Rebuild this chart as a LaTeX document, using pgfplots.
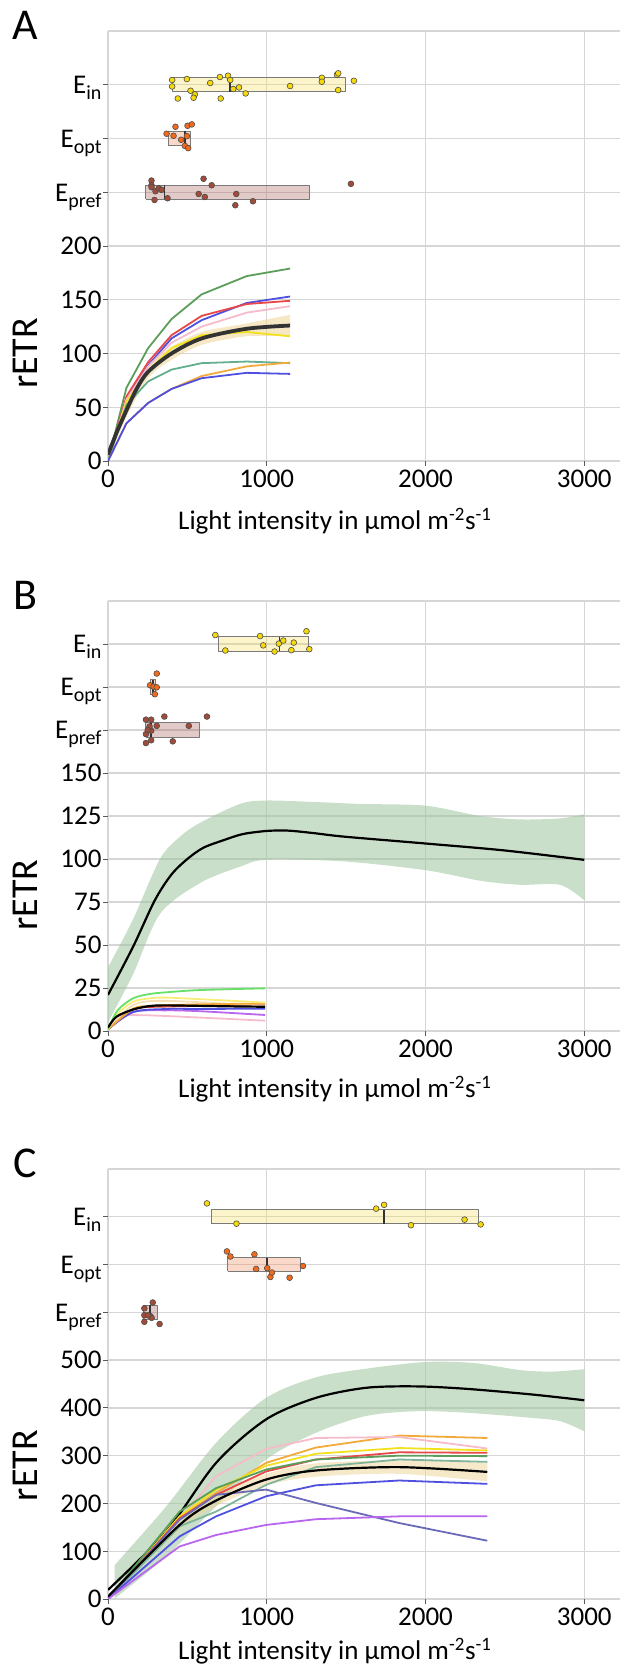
\documentclass[border=0pt]{standalone}
\usepackage{fontspec}
\setmainfont{Carlito}
\usepackage{pgfplots}
\pgfplotsset{compat=1.18}
\usepgfplotslibrary{fillbetween}

\definecolor{gridgray}{HTML}{D6D6D6}
\definecolor{boxedge}{HTML}{7A7A7A}
\definecolor{ptyellow}{HTML}{F5D90A}
\definecolor{ptorange}{HTML}{F26B1D}
\definecolor{ptbrown}{HTML}{A24B38}
\definecolor{bxyellow}{HTML}{F5DC50}
\definecolor{bxorange}{HTML}{EE8050}
\definecolor{bxbrown}{HTML}{A0504A}
\definecolor{lgreen}{HTML}{5A9E5A}
\definecolor{lblue}{HTML}{5050E0}
\definecolor{lred}{HTML}{E84848}
\definecolor{lpink}{HTML}{F6BCCB}
\definecolor{lyellow}{HTML}{F2E21E}
\definecolor{lteal}{HTML}{62AE8E}
\definecolor{lorange}{HTML}{F2AA3A}
\definecolor{lbright}{HTML}{66E066}
\definecolor{lwheat}{HTML}{F5DEB3}
\definecolor{lpurple}{HTML}{B866EE}
\definecolor{lslate}{HTML}{6A6AB8}
\definecolor{lsage}{HTML}{80B49A}
\definecolor{tanband}{HTML}{EED495}
\definecolor{greenband}{HTML}{9CC49C}

\newcommand{\Ein}{E\raisebox{-6pt}{\fontsize{20}{20}\selectfont in}}
\newcommand{\Eopt}{E\raisebox{-6pt}{\fontsize{20}{20}\selectfont opt}}
\newcommand{\Epref}{E\raisebox{-6pt}{\fontsize{20}{20}\selectfont pref}}

\tikzset{letter/.style={font=\fontsize{44}{44}\selectfont}}

\pgfplotsset{
  panel/.style={
    scale only axis, width=512pt, height=430pt,
    xmin=0, xmax=3225, ymin=0,
    xtick={0,1000,2000,3000}, xticklabels={0,1000,2000,3000},
    axis line style={draw=none},
    grid=major, grid style={draw=gridgray, line width=1.3pt},
    xtick pos=left, ytick pos=left,
    tick align=outside, major tick length=5pt,
    tick style={draw=black!65, line width=0.9pt},
    tick label style={font=\fontsize{27}{27}\selectfont},
    yticklabel style={anchor=base east, yshift=-8.8pt, xshift=2pt},
    /pgf/number format/assume math mode=true,
    extra y tick labels={},
    extra y tick style={major tick length=0pt, grid=major},
    xlabel={Light intensity in µmol m\textsuperscript{-2}s\textsuperscript{-1}},
    xlabel style={font=\fontsize{27}{27}\selectfont, at={(axis description cs:0.443,0)}, anchor=center},
    ylabel={rETR},
    ylabel style={font=\fontsize{38}{38}\selectfont, anchor=center},
    no markers,
    every axis plot/.append style={line join=round},
  },
  pts/.style={only marks, mark=*, mark size=2.9pt, mark options={fill=#1, draw=black!70, line width=0.6pt}},
  bx/.style={draw=boxedge, line width=0.9pt, fill=#1, fill opacity=0.3},
  med/.style={draw=black!80, line width=1.6pt},
}

\begin{document}
\begin{tikzpicture}

% ---------------- A ----------------
\begin{axis}[panel, at={(108pt,1211pt)}, anchor=south west, ymax=400,
  ytick={0,50,...,350}, yticklabels={0,50,100,150,200,\Epref,\Eopt,\Ein},
  extra y ticks={400},
  xlabel style={yshift=-60pt},
  ylabel style={at={(axis description cs:-0.162,0.25)}},
  extra description/.code={\node[letter] at (-0.162,1.012) {A};}]
% boxes
\addplot[bx=bxyellow] coordinates {(404,343.3) (1494,343.3) (1494,356.7) (404,356.7) (404,343.3)};
\addplot[med] coordinates {(767,343.3) (767,356.7)};
\addplot[pts=ptyellow] coordinates {(404,354.4) (404,348.4) (497,355.3) (440,337.2) (520,344.4) (547,341) (539,337.9) (644,351.6) (705,357.2) (710,337.2) (756,358.4) (770,354.4) (789,346) (825,347.5) (867,341.9) (1147,348.8) (1347,356.5) (1347,352.8) (1442,359.3) (1450,360.6) (1450,345) (1549,353.7)};
\addplot[bx=bxorange] coordinates {(379,293.5) (522,293.5) (522,306.5) (379,306.5) (379,293.5)};
\addplot[med] coordinates {(486,293.5) (486,306.5)};
\addplot[pts=ptorange] coordinates {(369,304.4) (425,310.9) (413,302.5) (461,298.8) (484,293.1) (505,291) (497,302.2) (501,311.8) (528,313.1)};
\addplot[bx=bxbrown] coordinates {(238,243.3) (1269,243.3) (1269,256.7) (238,256.7) (238,243.3)};
\addplot[med] coordinates {(356,243.3) (356,256.7)};
\addplot[pts=ptbrown] coordinates {(274,260.9) (274,256.5) (274,254.7) (299,250.9) (320,253.7) (337,252.2) (293,242.8) (375,244.4) (602,262.5) (653,256.5) (571,248.4) (610,245.6) (808,248.4) (802,237.9) (913,241.6) (1530,257.8)};
% curves
\addplot[lgreen, line width=1.8pt] coordinates {(0,0) (116,68) (253,105) (400,132) (590,155) (874,172) (1147,179)};
\addplot[lblue, line width=1.8pt] coordinates {(0,0) (116,58) (253,89) (400,114) (590,131) (874,147) (1147,153)};
\addplot[lred, line width=1.8pt] coordinates {(0,0) (116,60) (253,92) (400,117) (590,135) (874,146) (1147,149)};
\addplot[lpink, line width=1.8pt] coordinates {(0,0) (116,57) (253,88) (400,110) (590,125) (874,138) (1147,144)};
\addplot[lyellow, line width=1.8pt] coordinates {(0,0) (116,55) (253,84) (400,105) (590,117) (874,120) (1147,116)};
\addplot[lteal, line width=1.8pt] coordinates {(0,0) (116,52) (253,74) (400,85) (590,91) (874,92.5) (1147,91)};
\addplot[lorange, line width=1.8pt] coordinates {(0,0) (116,35) (253,54) (400,67) (590,79) (874,88) (1147,91.6)};
\addplot[lblue, line width=1.8pt] coordinates {(0,0) (116,35) (253,54) (400,67) (590,77) (874,82) (1147,81)};
\addplot[name path=Au, draw=none, smooth] coordinates {(0,8) (116,55) (253,89) (400,106) (590,120) (874,128) (1147,136)};
\addplot[name path=Al, draw=none, smooth] coordinates {(0,0) (116,41) (253,77) (400,94) (590,108) (874,116) (1147,116)};
\addplot[tanband, fill opacity=0.55] fill between[of=Au and Al];
\addplot[black!80, line width=3.8pt, smooth] coordinates {(0,6) (53,26) (116,47) (180,67) (253,83) (400,100) (590,114) (874,123) (1147,126)};
\end{axis}

% ---------------- B ----------------
\begin{axis}[panel, at={(108pt,641pt)}, anchor=south west, ymax=250,
  ytick={0,25,...,225}, yticklabels={0,25,50,75,100,125,150,\Epref,\Eopt,\Ein},
  extra y ticks={250},
  xlabel style={yshift=-58pt},
  ylabel style={at={(axis description cs:-0.162,0.316)}},
  extra description/.code={\node[letter] at (-0.162,1.012) {B};}]
\addplot[bx=bxyellow] coordinates {(693,220.8) (1265,220.8) (1265,229.2) (693,229.2) (693,220.8)};
\addplot[med] coordinates {(1079,220.8) (1079,229.2)};
\addplot[pts=ptyellow] coordinates {(676,230.2) (739,221.2) (958,229.6) (978,224.2) (1049,220.6) (1076,225.2) (1104,227) (1155,221.4) (1170,225.8) (1250,232.4) (1268,222)};
\addplot[bx=bxorange] coordinates {(267,195.8) (302,195.8) (302,204.2) (267,204.2) (267,195.8)};
\addplot[med] coordinates {(285,195.8) (285,204.2)};
\addplot[pts=ptorange] coordinates {(307,207.8) (265,201) (287,200.2) (307,199.8) (295,195.8)};
\addplot[bx=bxbrown] coordinates {(239,170.8) (575,170.8) (575,179.2) (239,179.2) (239,170.8)};
\addplot[med] coordinates {(272,170.8) (272,179.2)};
\addplot[pts=ptbrown] coordinates {(239,181) (272,181) (239,172.6) (272,174.6) (307,177.4) (355,182.8) (408,168.4) (239,167.4) (272,169) (509,177.4) (623,182.8) (262,177) (250,175)};
% green band and mean
\addplot[name path=Bu, draw=none, smooth] coordinates {(0,37) (158,65) (327,100) (454,113) (579,121) (831,132) (1000,134) (1335,133) (1587,132) (2000,131) (2343,125) (2595,123) (2847,123.6) (3000,126)};
\addplot[name path=Bl, draw=none, smooth] coordinates {(0,5) (158,33) (327,68) (579,86) (831,95.5) (1000,99.6) (1486,98.6) (2000,93.5) (2343,87.4) (2595,85) (2847,85) (3000,76)};
\addplot[greenband, fill opacity=0.55] fill between[of=Bu and Bl];
\addplot[black, line width=2.2pt, smooth] coordinates {(0,21) (158,49) (295,76) (400,91) (500,100) (600,106.5) (730,111) (850,114.5) (1000,116.3) (1134,116.5) (1300,115) (1486,113) (2000,109) (2494,105) (3000,99.5)};
% small curves
\addplot[lpink, line width=1.8pt, smooth] coordinates {(0,1) (100,8.5) (200,9.2) (368,8.7) (579,7.8) (990,6)};
\addplot[lpurple, line width=1.8pt, smooth] coordinates {(0,1) (158,11) (368,12) (579,11.5) (990,9.3)};
\addplot[lblue, line width=1.8pt, smooth] coordinates {(0,1) (158,11) (368,12.8) (579,12.8) (990,13)};
\addplot[lred, line width=1.8pt, smooth] coordinates {(0,1) (158,12.5) (368,14.2) (990,15)};
\addplot[lwheat, line width=1.8pt, smooth] coordinates {(0,1) (158,15) (368,17.5) (990,14.5)};
\addplot[lorange, line width=1.8pt, smooth] coordinates {(0,1) (158,13) (263,14.5) (368,15) (579,15.5) (990,16)};
\addplot[lyellow!60, line width=1.8pt, smooth] coordinates {(0,1) (60,10) (158,17) (263,19) (368,19.4) (579,18.5) (790,17.5) (990,16.5)};
\addplot[lbright, line width=1.8pt, smooth] coordinates {(0,1) (60,12) (158,19) (263,21.5) (368,22.5) (579,23.8) (990,24.8)};
\addplot[black, line width=2.2pt, smooth] coordinates {(0,2) (53,8.3) (158,12.5) (263,14.5) (368,14.9) (579,14.6) (790,14.3) (990,14.1)};
\end{axis}

% ---------------- C ----------------
\begin{axis}[panel, at={(108pt,73pt)}, anchor=south west, ymax=900,
  ytick={0,100,...,800}, yticklabels={0,100,200,300,400,500,\Epref,\Eopt,\Ein},
  extra y ticks={900},
  xlabel style={yshift=-52pt},
  ylabel style={at={(axis description cs:-0.162,0.31)}},
  extra description/.code={\node[letter] at (-0.162,1.012) {C};}]
\addplot[bx=bxyellow] coordinates {(650,785.5) (2334,785.5) (2334,814.5) (650,814.5) (650,785.5)};
\addplot[med] coordinates {(1739,785.5) (1739,814.5)};
\addplot[pts=ptyellow] coordinates {(623,828) (809,785.5) (1689,817) (1739,825) (1908,782.4) (2246,794) (2347,784)};
\addplot[bx=bxorange] coordinates {(754,685.5) (1210,685.5) (1210,714.5) (754,714.5) (754,685.5)};
\addplot[med] coordinates {(1003,685.5) (1003,714.5)};
\addplot[pts=ptorange] coordinates {(749,727.5) (771,716.8) (922,721.4) (933,690.8) (1003,692.4) (1023,674) (1033,683.2) (1144,672.5) (1228,697)};
\addplot[bx=bxbrown] coordinates {(222,585.5) (312,585.5) (312,614.5) (222,614.5) (222,585.5)};
\addplot[med] coordinates {(265,585.5) (265,614.5)};
\addplot[pts=ptbrown] coordinates {(229,608.4) (282,620.6) (229,594) (265,592.4) (275,588.5) (229,580.2) (325,575.6) (252,594)};
% green band and mean
\addplot[name path=Cu, draw=none, smooth] coordinates {(42,71) (367,194) (681,327) (996,421) (1310,464) (1624,482) (2000,496) (2300,494) (2600,479) (2800,476) (3000,481)};
\addplot[name path=Cl, draw=none, smooth] coordinates {(42,1) (367,89) (681,194) (996,292) (1310,348) (1624,383) (1939,393) (2253,390) (2672,379) (2850,372) (3000,351)};
\addplot[greenband, fill opacity=0.55] fill between[of=Cu and Cl];
\addplot[black, line width=2.2pt, smooth] coordinates {(0,19) (367,141) (681,285) (996,376) (1310,421) (1624,442) (1939,445) (2253,440) (2672,428) (3000,416)};
% small curves
\addplot[lorange, line width=1.8pt] coordinates {(0,0) (451,169) (681,222) (996,285) (1310,317) (1834,342) (2389,337)};
\addplot[lpink, line width=1.8pt] coordinates {(0,0) (451,166) (681,257) (996,314) (1310,337) (1834,339) (2389,315)};
\addplot[lyellow, line width=1.8pt] coordinates {(0,0) (451,173) (681,229) (996,279) (1310,304) (1834,316) (2389,311)};
\addplot[lred, line width=1.8pt] coordinates {(0,0) (451,169) (681,218) (996,267) (1310,292) (1834,307) (2389,306)};
\addplot[lgreen, line width=1.8pt] coordinates {(0,0) (451,183) (681,232) (996,271) (1310,292) (1834,300) (2389,299)};
\addplot[lsage, line width=1.8pt] coordinates {(0,0) (451,152) (681,183) (996,239) (1310,276) (1834,292) (2389,287)};
\addplot[lblue, line width=1.8pt] coordinates {(0,0) (451,131) (681,173) (996,215) (1310,238) (1834,248) (2389,241)};
\addplot[lslate, line width=1.8pt] coordinates {(0,0) (451,166) (681,218) (996,229) (1310,201) (1834,159) (2389,122)};
\addplot[lpurple, line width=1.8pt] coordinates {(0,0) (451,110) (681,134) (996,155) (1310,167) (1834,173) (2389,173)};
\addplot[name path=Tu, draw=none, smooth] coordinates {(0,8) (451,168) (681,218) (996,262) (1310,284) (1834,290) (2389,285)};
\addplot[name path=Tl, draw=none, smooth] coordinates {(0,2) (451,145) (681,194) (996,238) (1310,256) (1834,262) (2389,246)};
\addplot[tanband, fill opacity=0.5] fill between[of=Tu and Tl];
\addplot[black, line width=2.2pt, smooth] coordinates {(0,5) (451,155) (681,206) (996,250) (1310,269) (1834,276) (2389,266)};
\end{axis}

\path[use as bounding box] (0,0) rectangle (628pt,1672pt);
\end{tikzpicture}
\end{document}
